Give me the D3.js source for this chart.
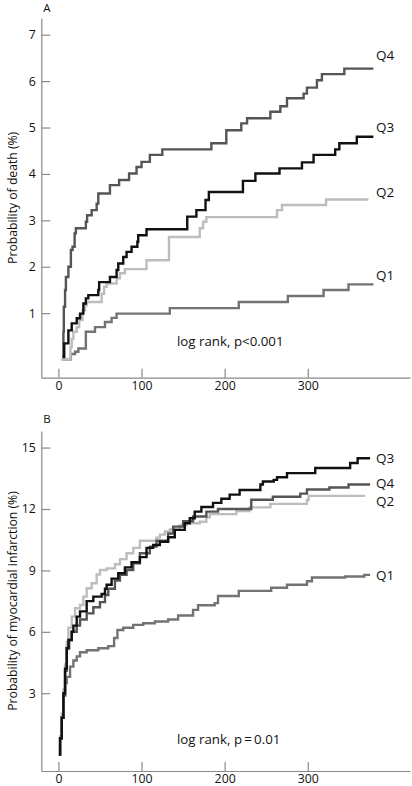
<!DOCTYPE html>
<html>
<head>
<meta charset="utf-8">
<script src="https://cdn.jsdelivr.net/npm/d3@7"></script>
<style>
  html, body { margin: 0; padding: 0; background: #fff; }
  svg { display: block; }
  text { font-family: "Open Sans", Lato, sans-serif; fill: #111; }
</style>
</head>
<body>
<svg id="chart" width="412" height="786"></svg>
<script>
// ---------- DATA (days, cumulative probability %) ----------
const quartiles = ["Q1", "Q2", "Q3", "Q4"];
const xTicks = [0, 100, 200, 300];
const deathTicks = [1, 2, 3, 4, 5, 6, 7];
const miTicks = [3, 6, 9, 12, 15];

// Panel A: probability of death
const deathQ4 = [[5,0.05],[6,0.6],[6.5,1.14],[8,1.5],[9,1.78],[12,2.0],[15,2.36],[17,2.43],[19.5,2.72],[21,2.83],[33,2.97],[34.5,3.11],[40,3.22],[46,3.36],[48,3.58],[62,3.76],[73,3.87],[85,4.01],[94,4.15],[100,4.26],[110,4.41],[125,4.53],[184,4.66],[202,4.94],[220,5.09],[227,5.2],[255,5.34],[267,5.46],[275,5.63],[295,5.73],[299,5.86],[311,6.02],[317,6.15],[344,6.27],[379,6.27]];
const deathQ3 = [[5,0.06],[7,0.35],[12,0.63],[16,0.78],[22,0.89],[26,0.99],[30,1.21],[33,1.32],[36,1.39],[48,1.5],[49,1.67],[62,1.78],[70,1.93],[72,2.07],[78,2.21],[82,2.32],[88,2.43],[95,2.54],[96,2.68],[106,2.81],[155,3.08],[166,3.22],[177,3.44],[181,3.61],[222,3.85],[237,4.01],[266,4.12],[293,4.25],[307,4.41],[333,4.53],[338,4.66],[359,4.8],[379,4.8]];
const deathQ2 = [[3,0],[14.5,0.27],[16,0.45],[18,0.6],[22,0.7],[25,0.85],[29,1.06],[32,1.17],[34,1.24],[52,1.42],[55,1.57],[58,1.64],[70,1.75],[74,1.86],[80,1.95],[106,2.14],[133,2.64],[170,2.83],[174,2.97],[178,3.07],[263,3.22],[269,3.33],[322,3.45],[373,3.45]];
const deathQ1 = [[5,0],[15,0.12],[20,0.17],[24,0.24],[33,0.6],[44,0.7],[56,0.81],[64,0.9],[70,0.99],[134,1.11],[217,1.24],[276,1.37],[319,1.5],[349,1.62],[379,1.62]];
const deathLabelY = [1.83, 3.61, 5.0, 6.56];

// Panel B: probability of myocardial infarction
const miQ4 = [[0.5,0],[2,0.8],[4,1.8],[6,2.9],[8,4.1],[10,5.2],[13,5.6],[16,6.0],[22,6.3],[26,6.6],[34,6.9],[42,7.2],[50,7.45],[56,7.8],[60,8.1],[68,8.5],[74,8.78],[82,9.02],[90,9.35],[98,9.84],[110,10.16],[118,10.45],[132,10.8],[138,11.14],[150,11.4],[162,11.63],[178,11.87],[192,12.0],[232,12.45],[258,12.6],[291,12.75],[299,12.95],[326,13.05],[349,13.2],[375,13.2]];
const miQ3 = [[0.5,0],[2,0.8],[4,1.8],[6,3.0],[8,4.2],[10,5.2],[12,5.6],[16,6.0],[18,6.3],[22,6.74],[26,7.0],[34,7.5],[42,7.72],[52,7.85],[56,8.1],[58,8.3],[64,8.6],[72,8.86],[80,9.15],[88,9.4],[98,9.65],[106,10.1],[114,10.24],[122,10.4],[132,10.62],[140,10.98],[152,11.3],[158,11.55],[164,11.87],[172,12.1],[186,12.3],[196,12.5],[206,12.7],[218,12.93],[243,13.2],[246,13.34],[259,13.42],[263,13.55],[275,13.75],[309,14.0],[351,14.25],[360,14.48],[375,14.48]];
const miQ2 = [[0.5,0],[2,0.9],[4,2.0],[6,3.2],[8,4.4],[10,5.5],[12,6.2],[16,6.74],[20,7.15],[26,7.31],[30,7.72],[34,8.13],[40,8.37],[46,8.8],[50,9.02],[58,9.1],[68,9.3],[74,9.55],[82,9.84],[90,10.1],[98,10.45],[118,10.6],[122,10.75],[128,10.9],[134,11.0],[146,11.2],[154,11.3],[170,11.38],[178,11.6],[182,11.75],[214,11.9],[230,12.08],[255,12.25],[299,12.44],[301,12.64],[369,12.64]];
const miQ1 = [[0.5,0],[2,0.8],[4,1.8],[6,2.9],[8,3.5],[10,3.8],[14,4.3],[18,4.6],[22,4.8],[26,5.0],[34,5.1],[48,5.2],[60,5.3],[67,5.7],[71,6.09],[78,6.2],[90,6.34],[102,6.42],[116,6.5],[132,6.6],[144,6.8],[162,7.07],[168,7.3],[188,7.4],[192,7.75],[217,8.0],[256,8.15],[275,8.3],[299,8.47],[305,8.65],[345,8.7],[368,8.78],[375,8.78]];
const miLabelY = [8.78, 12.36, 14.48, 13.26];

// ---------- DRAWING ----------
const svg = d3.select("#chart");
const colors = { Q1: "#737373", Q2: "#bdbdbd", Q3: "#111111", Q4: "#555555" };
const axisColor = "#8a8a8a";
const FONT = "'Open Sans', Lato, sans-serif";

function panel(opts) {
  const g = svg.append("g");
  const x = d3.scaleLinear().domain([-20.6, 423]).range([41.3, 410]);
  const y = d3.scaleLinear().domain(opts.yDomain).range(opts.yRange);

  const xa = g.append("g")
    .attr("transform", `translate(0,${opts.yRange[0]})`)
    .call(d3.axisBottom(x).tickValues(xTicks).tickSize(-9).tickSizeOuter(0).tickPadding(3.5));
  const ya = g.append("g")
    .attr("transform", `translate(${x.range()[0]},0)`)
    .call(d3.axisLeft(y).tickValues(opts.yTicks).tickSize(-9).tickSizeOuter(0).tickPadding(5.5));
  [xa, ya].forEach(a => {
    a.select(".domain").attr("stroke", axisColor).attr("stroke-width", 1.2);
    a.selectAll(".tick line").attr("stroke", axisColor).attr("stroke-width", 1.2);
    a.selectAll(".tick text").style("font-family", FONT).style("font-size", "12.3px").attr("fill", "#111");
  });

  const line = d3.line().x(d => x(d[0])).y(d => y(d[1])).curve(d3.curveStepAfter);
  ["Q1", "Q2", "Q4", "Q3"].forEach(q => {
    g.append("path")
      .datum(opts.series[q])
      .attr("fill", "none")
      .attr("stroke", colors[q])
      .attr("stroke-width", 2.4)
      .attr("d", line);
  });

  quartiles.forEach((q, i) => {
    g.append("text")
      .attr("x", 376)
      .attr("y", y(opts.labelY[i]))
      .attr("dy", "0.36em")
      .style("font-size", "13.5px")
      .text(q);
  });

  g.append("text").attr("x", 47).attr("y", opts.letterY).attr("text-anchor", "middle")
    .style("font-size", "11.5px").text(opts.letter);

  const mid = (opts.yRange[0] + opts.yRange[1]) / 2;
  g.append("text")
    .attr("transform", `translate(16.5,${mid}) rotate(-90)`)
    .attr("text-anchor", "middle")
    .style("font-size", "12.2px")
    .text(opts.yTitle);

  g.append("text")
    .attr("x", 177)
    .attr("y", opts.noteY)
    .attr("dy", "0.36em")
    .style("font-size", "13.3px")
    .text(opts.note);
}

panel({
  yDomain: [-0.39, 7.36], yRange: [377.7, 18], yTicks: deathTicks,
  series: { Q1: deathQ1, Q2: deathQ2, Q3: deathQ3, Q4: deathQ4 },
  labelY: deathLabelY, letter: "A", letterY: 12,
  yTitle: "Probability of death (%)",
  note: "log rank, p<0.001", noteY: 341
});

panel({
  yDomain: [-0.8, 15.81], yRange: [771, 431], yTicks: miTicks,
  series: { Q1: miQ1, Q2: miQ2, Q3: miQ3, Q4: miQ4 },
  labelY: miLabelY, letter: "B", letterY: 423,
  yTitle: "Probability of myocardial infarction (%)",
  note: "log rank, p\u2009=\u20090.01", noteY: 739
});
</script>
</body>
</html>
